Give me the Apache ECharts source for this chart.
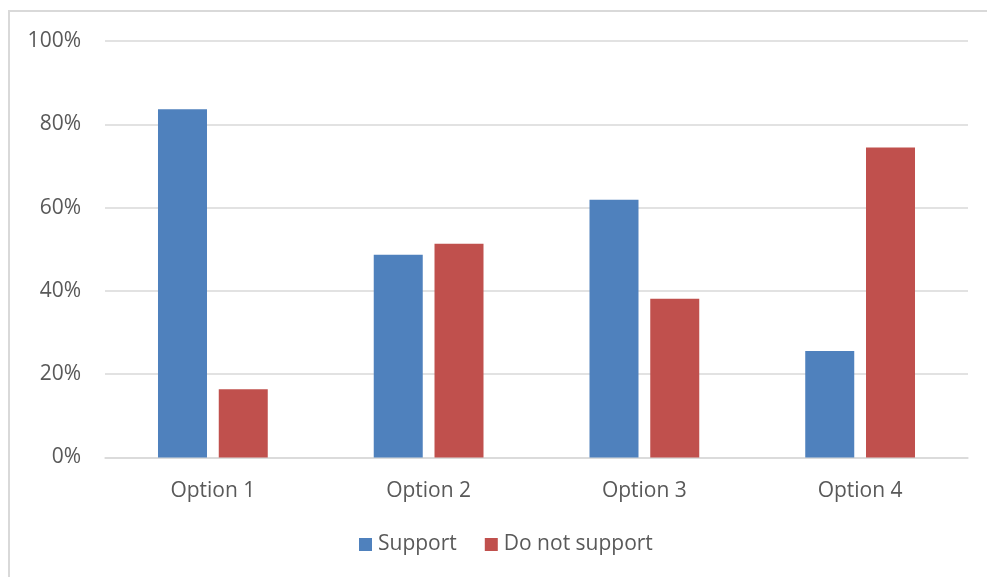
<!DOCTYPE html>
<html>
<head>
<meta charset="utf-8">
<script src="https://cdn.jsdelivr.net/npm/echarts@6/dist/echarts.min.js"></script>
<style>
  html, body { margin: 0; padding: 0; background: #fff; }
  #frame {
    position: absolute; left: 8px; top: 10px; width: 1000px; height: 600px;
    border: 2px solid #d9d9d9; box-sizing: border-box;
  }
  #main { position: absolute; left: 0; top: 0; width: 987px; height: 577px; }
</style>
</head>
<body>
<div id="frame"></div>
<div id="main"></div>
<script>
const categories = ["Option 1", "Option 2", "Option 3", "Option 4"];
const supportValues = [83.6, 48.7, 61.9, 25.6];
const notSupportValues = [16.4, 51.3, 38.1, 74.4];
const yTicks = [0, 20, 40, 60, 80, 100];

const textColor = "#595959";
const gridColor = "#d9d9d9";
const fontFamily = "'Open Sans', 'Noto Sans', sans-serif";

var chartDom = document.getElementById("main");
var myChart = echarts.init(chartDom);
var option;

option = {
  backgroundColor: "transparent",
  animation: false,
  grid: {
    left: 105,
    right: 19,
    top: 41,
    bottom: 119.5,
  },
  legend: {
    data: ["Support", "Do not support"],
    bottom: 17,
    left: 354,
    icon: "rect",
    itemWidth: 13,
    itemHeight: 13,
    itemGap: 28,
    textStyle: {
      color: textColor,
      fontSize: 21,
      fontFamily: fontFamily,
      padding: [0, 0, 0, 1],
    },
  },
  xAxis: {
    type: "category",
    data: categories,
    axisTick: { show: false },
    axisLine: { lineStyle: { color: gridColor, width: 1.5 } },
    axisLabel: {
      color: textColor,
      fontSize: 21,
      fontFamily: fontFamily,
      margin: 23,
    },
  },
  yAxis: {
    type: "value",
    min: yTicks[0],
    max: yTicks[yTicks.length - 1],
    interval: yTicks[1] - yTicks[0],
    axisLine: { show: false },
    axisTick: { show: false },
    splitLine: { lineStyle: { color: gridColor, width: 1.5 } },
    axisLabel: {
      color: textColor,
      fontSize: 21,
      fontFamily: fontFamily,
      margin: 24,
      formatter: "{value}%",
    },
  },
  series: [
    {
      name: "Support",
      type: "bar",
      data: supportValues,
      barWidth: 49,
      barGap: "24%",
      itemStyle: { color: "#4f81bd" },
    },
    {
      name: "Do not support",
      type: "bar",
      data: notSupportValues,
      barWidth: 49,
      barGap: "24%",
      itemStyle: { color: "#c0504d" },
    },
  ],
};

option && myChart.setOption(option);
</script>
</body>
</html>
